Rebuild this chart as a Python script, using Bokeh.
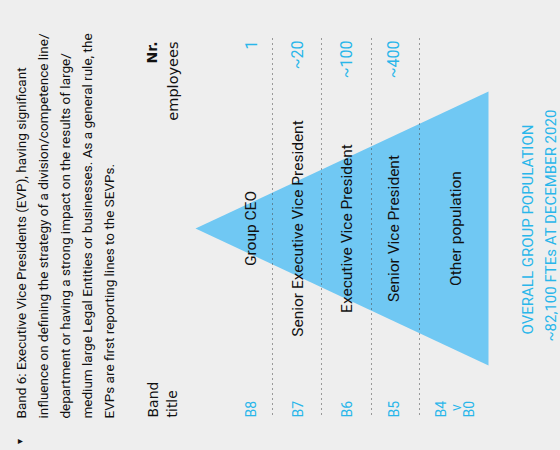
import math
from bokeh.plotting import figure
from bokeh.models import Range1d
from bokeh.core.properties import value
from bokeh.embed import file_html
from bokeh.resources import INLINE

# ---- data ----
band_codes = ["B8", "B7", "B6", "B5", "B4"]
band_titles = ["Group CEO", "Senior Executive Vice President", "Executive Vice President",
               "Senior Vice President", "Other population"]
employees = ["1", "~20", "~100", "~400", ""]
band_centers = [250, 297, 346, 393, 455]
band_edges = [272, 321, 371, 419]
pyramid_apex = 195
pyramid_base = 488
pyramid_mid = 228
pyramid_half = 137

note_lines = [
    "Band 6: Executive Vice Presidents (EVP), having significant",
    "influence on defining the strategy of a division/competence line/",
    "department or having a strong impact on the results of large/",
    "medium large Legal Entities or businesses. As a general rule, the",
    "EVPs are first reporting lines to the SEVPs.",
]
note_x = [20, 42, 64, 86, 108]
footer_lines = ["OVERALL GROUP POPULATION", "~82,100 FTEs AT DECEMBER 2020"]
footer_x = [527, 550]

BG = "#eeeeee"
BLUE = "#70c8f3"
CYAN = "#29b6ea"
UP = math.pi / 2
FONT = value("Roboto")
FONT2 = value("DejaVu Sans")

p = figure(width=560, height=450, output_backend="svg", toolbar_location=None,
           x_range=Range1d(0, 560), y_range=Range1d(450, 0),
           min_border=0, outline_line_color=None,
           background_fill_color=BG, border_fill_color=BG)
p.axis.visible = False
p.grid.visible = False

# pyramid
p.patch([pyramid_apex, pyramid_base, pyramid_base],
        [pyramid_mid, pyramid_mid - pyramid_half, pyramid_mid + pyramid_half],
        fill_color=BLUE, line_color=None)

# dotted separators
p.segment(x0=band_edges, y0=[38] * len(band_edges), x1=band_edges, y1=[418] * len(band_edges),
          line_color="#444444", line_width=1, line_dash="1 4")

# band titles in pyramid
p.text(x=band_centers, y=[pyramid_mid] * 5, text=band_titles, angle=UP,
       text_align="center", text_baseline="middle", text_font=FONT,
       text_font_size="15.5px", text_color="#111111")

# band codes
p.text(x=band_centers[:4] + [440], y=[417] * 5, text=band_codes, angle=UP,
       text_align="left", text_baseline="middle", text_font=FONT,
       text_font_size="14px", text_color=CYAN)
p.text(x=[455], y=[407], text=["v"], angle=UP, text_align="center", text_baseline="middle",
       text_font=FONT, text_font_size="14px", text_color=CYAN)
p.text(x=[468], y=[417], text=["B0"], angle=UP, text_align="left", text_baseline="middle",
       text_font=FONT, text_font_size="14px", text_color=CYAN)

# employee counts
p.text(x=band_centers[:4], y=[40] * 4, text=employees[:4], angle=UP,
       text_align="right", text_baseline="middle", text_font=FONT,
       text_font_size="16px", text_color=CYAN)

# headers
p.text(x=[152, 171], y=[417, 417], text=["Band", "title"], angle=UP,
       text_align="left", text_baseline="middle", text_font=FONT2,
       text_font_size="14px", text_color="#111111")
p.text(x=[151], y=[41], text=["Nr."], angle=UP, text_align="right", text_baseline="middle",
       text_font=FONT2, text_font_size="14px", text_font_style="bold", text_color="#111111")
p.text(x=[172], y=[41], text=["employees"], angle=UP, text_align="right", text_baseline="middle",
       text_font=FONT2, text_font_size="14.5px", text_color="#111111")

# note paragraph
p.text(x=note_x, y=[418] * 5, text=note_lines, angle=UP, text_align="left",
       text_baseline="middle", text_font=FONT, text_font_size="13.5px", text_color="#111111")
p.text(x=[19], y=[441], text=["\u25be"], angle=UP, text_align="center", text_baseline="middle",
       text_font=FONT2, text_font_size="10px", text_color="#111111")

# footer
p.text(x=footer_x, y=[229, 225], text=footer_lines, angle=UP, text_align="center",
       text_baseline="middle", text_font=FONT, text_font_size="15px", text_color=CYAN)

html = file_html(p, INLINE)
html = html.replace("<head>", "<head><style>html,body{background:#eeeeee;}</style>", 1)
open("out.html", "w").write(html)
